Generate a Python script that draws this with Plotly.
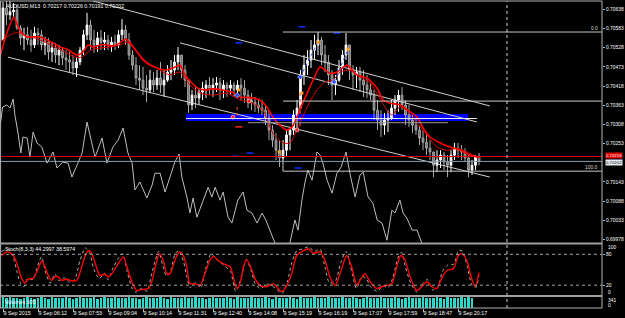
import plotly.graph_objects as go

# ---------------- data ----------------
symbol_label = "AUDUSD,M13  0.70217 0.70226 0.70191 0.70202"
stoch_label = "Stoch(8,3,3) 44.2997 38.5974"
volume_label = "Volumes 305"

tick_bars = [0, 10, 20, 30, 40, 50, 60, 70, 80, 90, 100, 110, 120, 130]
tick_labels = ["9 Sep 2015", "9 Sep 06:12", "9 Sep 07:53", "9 Sep 09:04", "9 Sep 10:14",
               "9 Sep 11:31", "9 Sep 12:40", "9 Sep 14:08", "9 Sep 15:19", "9 Sep 16:19",
               "9 Sep 17:07", "9 Sep 17:59", "9 Sep 18:47", "9 Sep 20:17"]

price_ticks = [0.70638, 0.70583, 0.70528, 0.70473, 0.70418, 0.70363, 0.70308,
               0.70253, 0.70143, 0.70088, 0.70033, 0.69978]

# OHLC in points (1 point = 0.00001)
first_open_pts = 70550
high_pts = [70659, 70665, 70665, 70656, 70651, 70593, 70585, 70588, 70579, 70588,
            70585, 70579, 70559, 70556, 70542, 70542, 70536, 70530, 70521, 70516,
            70507, 70501, 70530, 70579, 70628, 70608, 70579, 70573, 70579, 70573,
            70565, 70559, 70565, 70579, 70610, 70593, 70570, 70521, 70501, 70478,
            70473, 70450, 70464, 70458, 70464, 70487, 70464, 70478, 70493, 70507,
            70530, 70507, 70478, 70435, 70407, 70415, 70412, 70430, 70435, 70444,
            70441, 70444, 70441, 70435, 70430, 70435, 70430, 70435, 70441, 70435,
            70407, 70398, 70387, 70378, 70378, 70364, 70349, 70306, 70283, 70263,
            70263, 70292, 70301, 70349, 70378, 70464, 70507, 70521, 70550, 70565,
            70573, 70559, 70536, 70507, 70464, 70450, 70493, 70521, 70570, 70536,
            70478, 70473, 70473, 70464, 70450, 70427, 70407, 70378, 70349, 70341,
            70349, 70378, 70392, 70407, 70415, 70378, 70364, 70335, 70326, 70306,
            70292, 70283, 70263, 70229, 70234, 70234, 70229, 70220, 70234, 70255,
            70255, 70249, 70240, 70220, 70206, 70220, 70226]
low_pts = [70550, 70593, 70608, 70613, 70579, 70536, 70521, 70536, 70516, 70527,
           70536, 70521, 70507, 70493, 70487, 70484, 70478, 70478, 70464, 70458,
           70450, 70444, 70478, 70507, 70550, 70521, 70513, 70516, 70521, 70521,
           70521, 70516, 70521, 70527, 70550, 70536, 70493, 70464, 70421, 70407,
           70392, 70372, 70398, 70401, 70407, 70398, 70387, 70430, 70435, 70450,
           70464, 70441, 70415, 70341, 70349, 70355, 70364, 70378, 70384, 70392,
           70387, 70401, 70378, 70384, 70387, 70392, 70387, 70392, 70378, 70369,
           70355, 70349, 70344, 70341, 70335, 70306, 70263, 70243, 70206, 70186,
           70200, 70214, 70234, 70278, 70298, 70349, 70421, 70450, 70470, 70493,
           70507, 70478, 70458, 70421, 70378, 70392, 70430, 70450, 70493, 70435,
           70407, 70412, 70401, 70387, 70384, 70378, 70321, 70292, 70272, 70278,
           70286, 70321, 70335, 70344, 70349, 70306, 70301, 70283, 70278, 70249,
           70234, 70220, 70206, 70157, 70171, 70183, 70177, 70157, 70171, 70206,
           70212, 70206, 70200, 70157, 70163, 70177, 70191]
close_pts = [70642, 70622, 70631, 70636, 70585, 70556, 70565, 70550, 70536, 70570,
             70565, 70536, 70544, 70516, 70527, 70507, 70521, 70499, 70493, 70487,
             70470, 70487, 70521, 70565, 70593, 70550, 70536, 70556, 70544, 70550,
             70536, 70544, 70536, 70565, 70579, 70550, 70507, 70478, 70441, 70435,
             70412, 70407, 70435, 70421, 70441, 70421, 70435, 70458, 70464, 70487,
             70507, 70464, 70435, 70364, 70392, 70384, 70401, 70412, 70421, 70412,
             70421, 70427, 70407, 70421, 70412, 70421, 70407, 70421, 70412, 70392,
             70378, 70372, 70364, 70355, 70349, 70326, 70292, 70263, 70234, 70212,
             70234, 70278, 70292, 70335, 70355, 70450, 70478, 70493, 70521, 70536,
             70550, 70507, 70487, 70450, 70421, 70435, 70470, 70507, 70536, 70464,
             70450, 70458, 70435, 70421, 70407, 70392, 70349, 70321, 70306, 70321,
             70326, 70355, 70378, 70392, 70364, 70335, 70321, 70306, 70292, 70269,
             70257, 70240, 70229, 70191, 70206, 70220, 70200, 70191, 70220, 70240,
             70234, 70229, 70212, 70177, 70191, 70217, 70202]

volume = [330, 318, 341, 322, 305, 297, 312, 336, 301, 289, 325, 340, 310, 298, 333, 317,
          306, 328, 339, 300, 291, 322, 335, 314, 308, 327, 341, 296, 312, 330, 319, 304,
          338, 325, 299, 311, 334, 320, 307, 293, 329, 340, 316, 302, 324, 337, 309, 295,
          331, 318, 303, 326, 341, 300, 314, 335, 321, 306, 292, 328, 339, 313, 301, 323,
          336, 310, 297, 332, 319, 305, 327, 340, 315, 299, 321, 338, 308, 294, 330, 317,
          304, 325, 341, 311, 298, 333, 320, 307, 329, 336, 312, 300, 322, 339, 314, 302,
          327, 340, 318, 305, 331, 316, 296, 324, 337, 309, 303, 328, 341, 313, 300, 320,
          335, 311, 297, 326, 338, 316, 304, 329, 340, 314, 301, 323, 336, 310, 298, 332,
          319, 306, 325, 339, 317, 330, 305]

ma_fast_bar = [-0.9, 1.1, 3.1, 4.3, 5.4, 6.9, 8.6, 10.6, 12.6, 14.3, 16.3, 18.3, 21.1, 22.6,
               24.3, 25.7, 27.7, 29.7, 31.4, 33.4, 35.1, 36.3, 38.3, 40, 42, 44, 46.3, 48.6,
               50.6, 52, 54, 55.7, 57.7, 60, 62.6, 65.4, 67.7, 71.4, 73.4, 75.4, 77.1, 79.1,
               81.1, 82.6, 84, 85.4, 86.9, 88.6, 90.6, 93.4, 95.4, 98.3, 101.1, 104, 106.9,
               108.6, 110.6, 113.4, 115.7, 118.3, 120, 122, 124.9, 127.7, 130.6, 133.4, 136.3]
ma_fast_pts = [70501, 70570, 70616, 70588, 70570, 70559, 70559, 70559, 70550, 70542, 70530,
               70524, 70507, 70513, 70536, 70530, 70536, 70536, 70533, 70542, 70553, 70542,
               70516, 70493, 70478, 70470, 70464, 70470, 70478, 70450, 70427, 70412, 70407,
               70410, 70407, 70401, 70387, 70384, 70378, 70358, 70329, 70306, 70292, 70301,
               70329, 70364, 70398, 70435, 70473, 70455, 70458, 70478, 70450, 70441, 70412,
               70378, 70369, 70364, 70349, 70329, 70298, 70272, 70255, 70243, 70234, 70220,
               70214]
ma_slow_bar = [-0.9, 1.1, 3.1, 4.9, 6.9, 9.1, 12, 14.9, 17.7, 20.6, 22.6, 24.9, 27.7, 30.6,
               33.4, 35.4, 37.1, 39.1, 41.1, 43.4, 46.3, 47.7, 50.6, 53.4, 56.3, 60, 64, 67.7,
               71.4, 74.3, 77.1, 80, 82, 84, 86.9, 89.7, 92, 94.3, 96.3, 99.1, 102, 104.9,
               107.1, 109.7, 111.1, 113.4, 115.4, 118.3, 121.1, 124, 126.9, 129.7, 132.6, 135.4]
ma_slow_pts = [70542, 70559, 70570, 70570, 70559, 70556, 70544, 70530, 70516, 70501, 70501,
               70521, 70527, 70530, 70536, 70544, 70530, 70507, 70487, 70473, 70455, 70450,
               70458, 70421, 70398, 70392, 70398, 70378, 70369, 70349, 70283, 70255, 70255,
               70292, 70358, 70407, 70430, 70435, 70458, 70464, 70444, 70427, 70392, 70349,
               70335, 70358, 70349, 70312, 70278, 70243, 70234, 70240, 70229, 70214]

osc_bar = [-0.9, -0.1, 1.1, 2.0, 2.9, 3.4, 4.3, 5.1, 5.7, 6.9, 7.7, 8.6, 9.7, 11.1, 12.6,
           14.3, 15.4, 17.1, 18.6, 19.7, 21.4, 22.6, 24, 26.3, 28.3, 29.7, 31.4, 32.9, 34.3,
           35.7, 36.9, 37.7, 39.1, 41.1, 42.6, 43.4, 44.9, 46.3, 49.1, 50.3, 51.1, 52.6, 53.4,
           54.3, 55.4, 56.9, 58.6, 59.7, 60.6, 62, 62.9, 64.3, 65.4, 67.1, 68.6, 69.7, 71.1,
           72.6, 74, 75.1, 76.9, 77.7, 79.1, 81.4, 82, 83.4, 84.3, 85.4, 86.3, 87.1, 88.3,
           89.7, 90.6, 91.4, 92.6, 94, 95.4, 96.6, 98, 99.1, 100.6, 102, 102.9, 104.3, 105.7,
           106.9, 108.3, 109.7, 111.1, 112, 113.4, 114.3, 115.4, 116.9, 118.3, 119.7, 121.4]
osc_pts = [70300, 70358, 70364, 70355, 70381, 70335, 70283, 70226, 70272, 70269,
           70214, 70286, 70255, 70243, 70197, 70229, 70183, 70200, 70197, 70157,
           70197, 70226, 70315, 70214, 70269, 70197, 70243, 70263, 70298, 70226,
           70197, 70120, 70143, 70097, 70134, 70168, 70168, 70114, 70200, 70223,
           70157, 70097, 70054, 70097, 70042, 70082, 70128, 70100, 70128, 70091,
           70114, 70042, 70025, 70091, 70114, 70062, 70054, 70025, 70054, 70034,
           69985, 69968, 69919, 69933, 69970, 70034, 70005, 70091, 70143, 70177,
           70148, 70229, 70220, 70197, 70148, 70111, 70168, 70186, 70229, 70168,
           70100, 70163, 70171, 70100, 70082, 70034, 70025, 69976, 70062, 70054,
           70091, 70054, 70039, 70005, 70005, 69970, 69919]

stoch_main_bar = [-0.4, 1.1, 2.5, 3.4, 4.4, 5.3, 6.3, 7.2, 8.7, 9.6,
                  11.1, 12, 12.9, 13.9, 14.9, 15.8, 16.8, 18.2, 19.6, 21.1,
                  22.5, 23.7, 24.7, 25.6, 26.8, 27.7, 29.1, 30.1, 31.5, 32.9,
                  34.4, 35.3, 36.8, 38.2, 39.6, 41.5, 42.5, 43.4, 44.7, 45.8,
                  46.8, 47.7, 49.1, 50.4, 51.5, 52.5, 53.4, 54.9, 56.3, 57.7,
                  59.1, 60.1, 61.5, 62.9, 64.9, 65.8, 66.8, 67.7, 68.7, 69.6,
                  70.6, 72, 73.4, 75.3, 77.2, 78.2, 79.6, 81.1, 82.5, 83.9,
                  85.3, 87.2, 88.7, 90.6, 92, 93.4, 94.9, 96.3, 98.2, 99.6,
                  101.1, 102, 103.4, 104.9, 106.8, 108.2, 109.6, 111.1, 112.5, 113.6,
                  114.9, 116.3, 118.2, 119.6, 121.1, 122.5, 123.9, 125.3, 126.8, 128.7,
                  130.1, 131.1, 132.5, 133.9, 134.9, 136]
stoch_main = [77.7, 84.7, 81.2, 72.4, 53, 33.7, 24, 31.9, 33.7, 45.1,
              67.1, 55.7, 39, 29.3, 37.2, 36.3, 29.3, 31.9, 28.4, 29.3,
              55.7, 81.2, 87.4, 77.7, 53, 39, 41.6, 36.3, 46, 61.8,
              75, 58.3, 26.6, 9.9, 11.7, 13.4, 26.6, 52.2, 81.2, 68,
              42.5, 42.5, 68, 84.7, 77.7, 55.7, 23.1, 23.1, 19.6, 42.5,
              68, 75.9, 68, 61.8, 55.7, 36.3, 13.4, 23.1, 55.7, 69.7,
              58.3, 32.8, 19.6, 17, 23.1, 17, 7.3, 19.6, 42.5, 77.7,
              84.7, 90.9, 82.1, 84.7, 68, 36.3, 19.6, 42.5, 77.7, 55.7,
              19.6, 29.3, 42.5, 26.6, 13.4, 17, 19.6, 23.1, 55.7, 77.7,
              68, 36.3, 9.9, 17, 26.6, 17, 13.4, 32.8, 48.6, 52.2,
              77.7, 81.2, 68, 32.8, 17, 44.3]
stoch_sig_bar = [-0.4, 1.5, 3, 4, 5, 6, 7, 8.5, 10, 11,
                 12.3, 13.5, 14.8, 16, 17.5, 19, 20.5, 22, 23.5, 24.8,
                 26, 27.5, 29, 30, 31.5, 33, 34.2, 35.5, 36.8, 38,
                 39.5, 41.2, 42.3, 43.5, 44.5, 45.6, 46.8, 48, 49.2, 50.3,
                 51.5, 52.5, 53.5, 55, 56.5, 58, 59.5, 61, 63, 65,
                 66.5, 68, 69.5, 70.8, 72, 73.5, 75.5, 77.3, 79.8, 81.3,
                 82.5, 84, 85.5, 87.3, 89, 90.6, 92, 93.3, 95, 96.5,
                 98, 99.8, 101, 102.5, 103.8, 105, 107, 108.5, 110, 111.3,
                 112.8, 113.8, 115, 116.5, 118.3, 120, 121.3, 122.7, 124.2, 125.5,
                 127, 128.8, 130.2, 131.3, 132.7, 134, 135, 136]
stoch_sig = [85.6, 90, 72.4, 46, 24, 17, 32.8, 31, 59.2, 75,
             41.6, 24, 41.6, 28.4, 34.6, 25.8, 31, 68, 92.6, 81.2,
             50.4, 32.8, 43.4, 31, 54.8, 72.4, 81.2, 46, 15.2, 6.4,
             13.4, 8.2, 37.2, 68, 85.6, 59.2, 37.2, 50.4, 81.2, 87.4,
             68, 37.2, 15.2, 25.8, 15.2, 54.8, 81.2, 69.8, 59.2, 46,
             8.2, 32.8, 69.8, 50.4, 24, 13.4, 22.2, 17, 4.6, 28.4,
             63.6, 87.4, 90, 94.4, 85.6, 90, 54.8, 24, 28.4, 63.6,
             85.6, 41.6, 13.4, 37.2, 32.8, 17, 8.2, 18.7, 15.2, 32.8,
             72.4, 83.8, 54.8, 24, 6.4, 24, 31, 10.8, 15.2, 46,
             59.2, 61, 87.4, 85.6, 54.8, 19.6, 15.2, 38.6]

# drawn objects (bar index, price)
trend_lines = [([25.7, 139.1], [0.70662, 0.70361]),
               ([50.6, 135.4], [0.70542, 0.70315]),
               ([1.4, 139.1], [0.70501, 0.70157])]
fib_start_bar = 80
fib_levels = [0.70573, 0.70375, 0.70174]
fib_labels = {"0.0": 0.70573, "100.0": 0.70174}
zone_bars = [52.3, 132.9]
zone_prices = [0.70318, 0.70338]
zone_line = ([52.3, 135.4], 0.70325)
gray_line = ([70, 127.1], 0.70313)
red_level = 0.70216
bid_level = 0.70202
future_bar = 144

sig_blue_bar = [84.9, 66.9, 94.6]
sig_blue_px = [0.70444, 0.70392, 0.70430]
sig_orange_bar = [90, 98.6, 85.4, 67.4, 78.9]
sig_orange_px = [0.70544, 0.70524, 0.70398, 0.70407, 0.70229]
sig_red_bar = [65.7, 70.3, 84]
sig_red_px = [0.70329, 0.70375, 0.70292]
dash_blue_bar = [67.4, 85.4, 95.4, 66.3, 70.6, 84.3]
dash_blue_px = [0.70542, 0.70588, 0.70570, 0.70217, 0.70226, 0.70183]
dash_red_bar = [67.4]
dash_red_px = [0.70301]
dotted_blue = [([84.9, 90], [0.70444, 0.70544]), ([94.6, 98.6], [0.70430, 0.70524])]
dotted_red = [([84.9, 84.9], [0.70398, 0.70292]), ([66.9, 66.9], [0.70358, 0.70329])]

# ---------------- build ----------------
P = 1e5
n = len(close_pts)
bars = list(range(n))
close = [v / P for v in close_pts]
high = [v / P for v in high_pts]
low = [v / P for v in low_pts]
opn = [first_open_pts / P] + close[:-1]

FONT = "Liberation Sans"
GRAY = "#b4b4b4"
FS = 4.9

fig = go.Figure()

# white oscillator on main chart
fig.add_trace(go.Scatter(x=osc_bar, y=[v / P for v in osc_pts], mode="lines",
                         line=dict(color="#bdbdbd", width=1), yaxis="y", hoverinfo="skip"))

# blue zone
fig.add_shape(type="rect", xref="x", yref="y", x0=zone_bars[0], x1=zone_bars[1],
              y0=zone_prices[0], y1=zone_prices[1], fillcolor="#0000ff", line=dict(width=0),
              layer="below")
fig.add_shape(type="line", xref="x", yref="y", x0=zone_line[0][0], x1=zone_line[0][1],
              y0=zone_line[1], y1=zone_line[1], line=dict(color="#e8e8e8", width=1))
fig.add_shape(type="line", xref="x", yref="y", x0=gray_line[0][0], x1=gray_line[0][1],
              y0=gray_line[1], y1=gray_line[1], line=dict(color="#9a9a9a", width=1))

# fib levels
for lv in fib_levels:
    fig.add_shape(type="line", xref="x", yref="y", x0=fib_start_bar, x1=171.1,
                  y0=lv, y1=lv, line=dict(color="#c8c8c8", width=1))
fig.add_shape(type="line", xref="x", yref="y", x0=fib_start_bar, x1=fib_start_bar,
              y0=fib_levels[2], y1=bid_level, line=dict(color="#c8c8c8", width=1))
for txt, lv in fib_labels.items():
    fig.add_annotation(x=0.997, xref="paper", y=lv, yref="y", text=txt, showarrow=False,
                       xanchor="right", yanchor="bottom", yshift=-1,
                       font=dict(family=FONT, size=FS, color="#d8d8d8"))

# horizontal price lines
fig.add_shape(type="line", xref="paper", yref="y", x0=0, x1=1, y0=red_level, y1=red_level,
              line=dict(color="#e00000", width=1))
fig.add_shape(type="line", xref="paper", yref="y", x0=0, x1=1, y0=bid_level, y1=bid_level,
              line=dict(color="#8c9bab", width=1))

# trend lines
for xs, ys in trend_lines:
    fig.add_trace(go.Scatter(x=xs, y=ys, mode="lines", line=dict(color="#cfcfcf", width=1),
                             yaxis="y", hoverinfo="skip"))

# candles
fig.add_trace(go.Candlestick(x=bars, open=opn, high=high, low=low, close=close, yaxis="y",
                             increasing=dict(line=dict(color="#ffffff", width=1), fillcolor="#ffffff"),
                             decreasing=dict(line=dict(color="#a8a8a8", width=1), fillcolor="#6a6a6a"),
                             whiskerwidth=0, hoverinfo="skip"))

# moving averages
fig.add_trace(go.Scatter(x=ma_slow_bar, y=[v / P for v in ma_slow_pts], mode="lines",
                         line=dict(color="#d40000", width=1, shape="spline", smoothing=0.6),
                         yaxis="y", hoverinfo="skip"))
fig.add_trace(go.Scatter(x=ma_fast_bar, y=[v / P for v in ma_fast_pts], mode="lines",
                         line=dict(color="#ff0000", width=1.6, shape="spline", smoothing=0.6),
                         yaxis="y", hoverinfo="skip"))

# signal marks
for xs, ys in dotted_blue:
    fig.add_trace(go.Scatter(x=xs, y=ys, mode="lines", line=dict(color="#3050ff", width=1, dash="dot"),
                             yaxis="y", hoverinfo="skip"))
for xs, ys in dotted_red:
    fig.add_trace(go.Scatter(x=xs, y=ys, mode="lines", line=dict(color="#ff4040", width=1, dash="dot"),
                             yaxis="y", hoverinfo="skip"))
fig.add_trace(go.Scatter(x=dash_blue_bar, y=dash_blue_px, mode="markers", yaxis="y",
                         marker=dict(symbol="line-ew", size=5, line=dict(color="#1030ff", width=1.5)),
                         hoverinfo="skip"))
fig.add_trace(go.Scatter(x=dash_red_bar, y=dash_red_px, mode="markers", yaxis="y",
                         marker=dict(symbol="line-ew", size=5, line=dict(color="#ff2020", width=1.5)),
                         hoverinfo="skip"))
fig.add_trace(go.Scatter(x=sig_blue_bar, y=sig_blue_px, mode="markers", yaxis="y",
                         marker=dict(symbol="diamond", size=4, color="#3050ff",
                                     line=dict(color="#ffffff", width=0.5)), hoverinfo="skip"))
fig.add_trace(go.Scatter(x=sig_orange_bar, y=sig_orange_px, mode="markers", yaxis="y",
                         marker=dict(symbol="square", size=3, color="#ffa020"), hoverinfo="skip"))
fig.add_trace(go.Scatter(x=sig_red_bar, y=sig_red_px, mode="markers", yaxis="y",
                         marker=dict(symbol="circle", size=4, color="#ff2020",
                                     line=dict(color="#ffffff", width=0.5)), hoverinfo="skip"))

# stochastic
for lv in (20, 80):
    fig.add_shape(type="line", xref="paper", yref="y2", x0=0, x1=1, y0=lv, y1=lv,
                  line=dict(color="#a0a0a0", width=1, dash="dot"))
fig.add_trace(go.Scatter(x=stoch_sig_bar, y=stoch_sig, mode="lines", yaxis="y2",
                         line=dict(color="#b0b0b0", width=1, dash="dot", shape="spline", smoothing=0.7),
                         hoverinfo="skip"))
fig.add_trace(go.Scatter(x=stoch_main_bar, y=stoch_main, mode="lines", yaxis="y2",
                         line=dict(color="#ff0000", width=1.4, shape="spline", smoothing=0.7),
                         hoverinfo="skip"))

# volumes
fig.add_trace(go.Bar(x=list(range(len(volume))), y=volume, yaxis="y3", width=0.6,
                     marker=dict(color="#30d8cc", line=dict(width=0)), hoverinfo="skip"))

# future separator
fig.add_shape(type="line", xref="x", yref="paper", x0=future_bar, x1=future_bar, y0=0, y1=1,
              line=dict(color="#d0d0d0", width=1, dash="dot"))

# frame and panel separators (paper coords)
def py(pix):
    return (308 - pix) / 307

frame = dict(color=GRAY, width=1)
fig.add_shape(type="line", xref="paper", yref="paper", x0=0.001, x1=0.001, y0=0, y1=1, line=frame)
fig.add_shape(type="line", xref="paper", yref="paper", x0=0, x1=1, y0=1, y1=1, line=frame)
fig.add_shape(type="line", xref="paper", yref="paper", x0=1, x1=1, y0=0, y1=1, line=frame)
fig.add_shape(type="line", xref="paper", yref="paper", x0=0, x1=1, y0=0, y1=0, line=frame)
fig.add_shape(type="line", xref="paper", yref="paper", x0=0, x1=1, y0=py(243.5), y1=py(243.5),
              line=dict(color="#a0a0a0", width=2))
fig.add_shape(type="line", xref="paper", yref="paper", x0=0, x1=1, y0=py(296), y1=py(296),
              line=dict(color="#a0a0a0", width=2))

# texts
small = dict(family=FONT, size=FS, color="#ffffff")
fig.add_annotation(x=0.006, xref="paper", y=py(5.5), yref="paper", text=symbol_label,
                   showarrow=False, xanchor="left", yanchor="middle",
                   font=dict(family=FONT, size=5.3, color="#ffffff"))
fig.add_annotation(x=0.005, xref="paper", y=py(248.5), yref="paper", text=stoch_label,
                   showarrow=False, xanchor="left", yanchor="middle",
                   font=dict(family=FONT, size=5.3, color="#ffffff"))
fig.add_annotation(x=0.005, xref="paper", y=py(302), yref="paper", text=volume_label,
                   showarrow=False, xanchor="left", yanchor="middle",
                   font=dict(family=FONT, size=5.3, color="#ffffff"))
for txt, pix in (("100", 247.5), ("0", 292), ("341", 300.5), ("0", 305.5)):
    fig.add_annotation(x=1, xref="paper", y=py(pix), yref="paper", text=txt, showarrow=False,
                       xanchor="left", yanchor="middle", xshift=4, font=small)
fig.add_annotation(x=1, xref="paper", y=red_level, yref="y", text=f"{red_level:.5f}", showarrow=False,
                   xanchor="left", yanchor="middle", xshift=3, yshift=0.8, bgcolor="#e00000",
                   borderpad=0, font=dict(family=FONT, size=4.3, color="#ffffff"))
fig.add_annotation(x=1, xref="paper", y=bid_level, yref="y", text=f"{bid_level:.5f}", showarrow=False,
                   xanchor="left", yanchor="middle", xshift=3, yshift=-0.8, bgcolor="#e6ecf2",
                   borderpad=0, font=dict(family=FONT, size=4.3, color="#000000"))

fig.update_layout(
    width=625, height=318,
    margin=dict(l=0, r=23, t=1, b=10, autoexpand=False),
    paper_bgcolor="#000000", plot_bgcolor="#000000",
    showlegend=False, bargap=0,
    xaxis=dict(domain=[0, 1], range=[-0.857, 171.14], anchor="y3", showgrid=False, zeroline=False,
               tickvals=tick_bars, ticktext=tick_labels, ticks="outside", ticklen=3, tickangle=0,
               automargin=False,
               tickcolor=GRAY, ticklabelposition="outside right", rangeslider=dict(visible=False),
               tickfont=dict(family=FONT, size=5.3, color="#ffffff"), showline=False),
    yaxis=dict(domain=[py(243), 1], range=[0.69968, 0.70662], side="right", anchor="x",
               tickvals=price_ticks, ticktext=[f"{v:.5f}" for v in price_ticks], automargin=False,
               ticks="outside", ticklen=2, tickcolor=GRAY, showgrid=False, zeroline=False,
               tickfont=dict(family=FONT, size=FS, color="#ffffff")),
    yaxis2=dict(domain=[py(295.5), py(244)], range=[0, 100], side="right", anchor="x",
                tickvals=[20, 80], ticktext=["20", "80"], ticks="outside", ticklen=2,
                tickcolor=GRAY, showgrid=False, zeroline=False, automargin=False,
                tickfont=dict(family=FONT, size=FS, color="#ffffff")),
    yaxis3=dict(domain=[0, py(297)], range=[0, 345], side="right", anchor="x", automargin=False,
                showticklabels=False, showgrid=False, zeroline=False),
)

fig.write_html("out.html")
